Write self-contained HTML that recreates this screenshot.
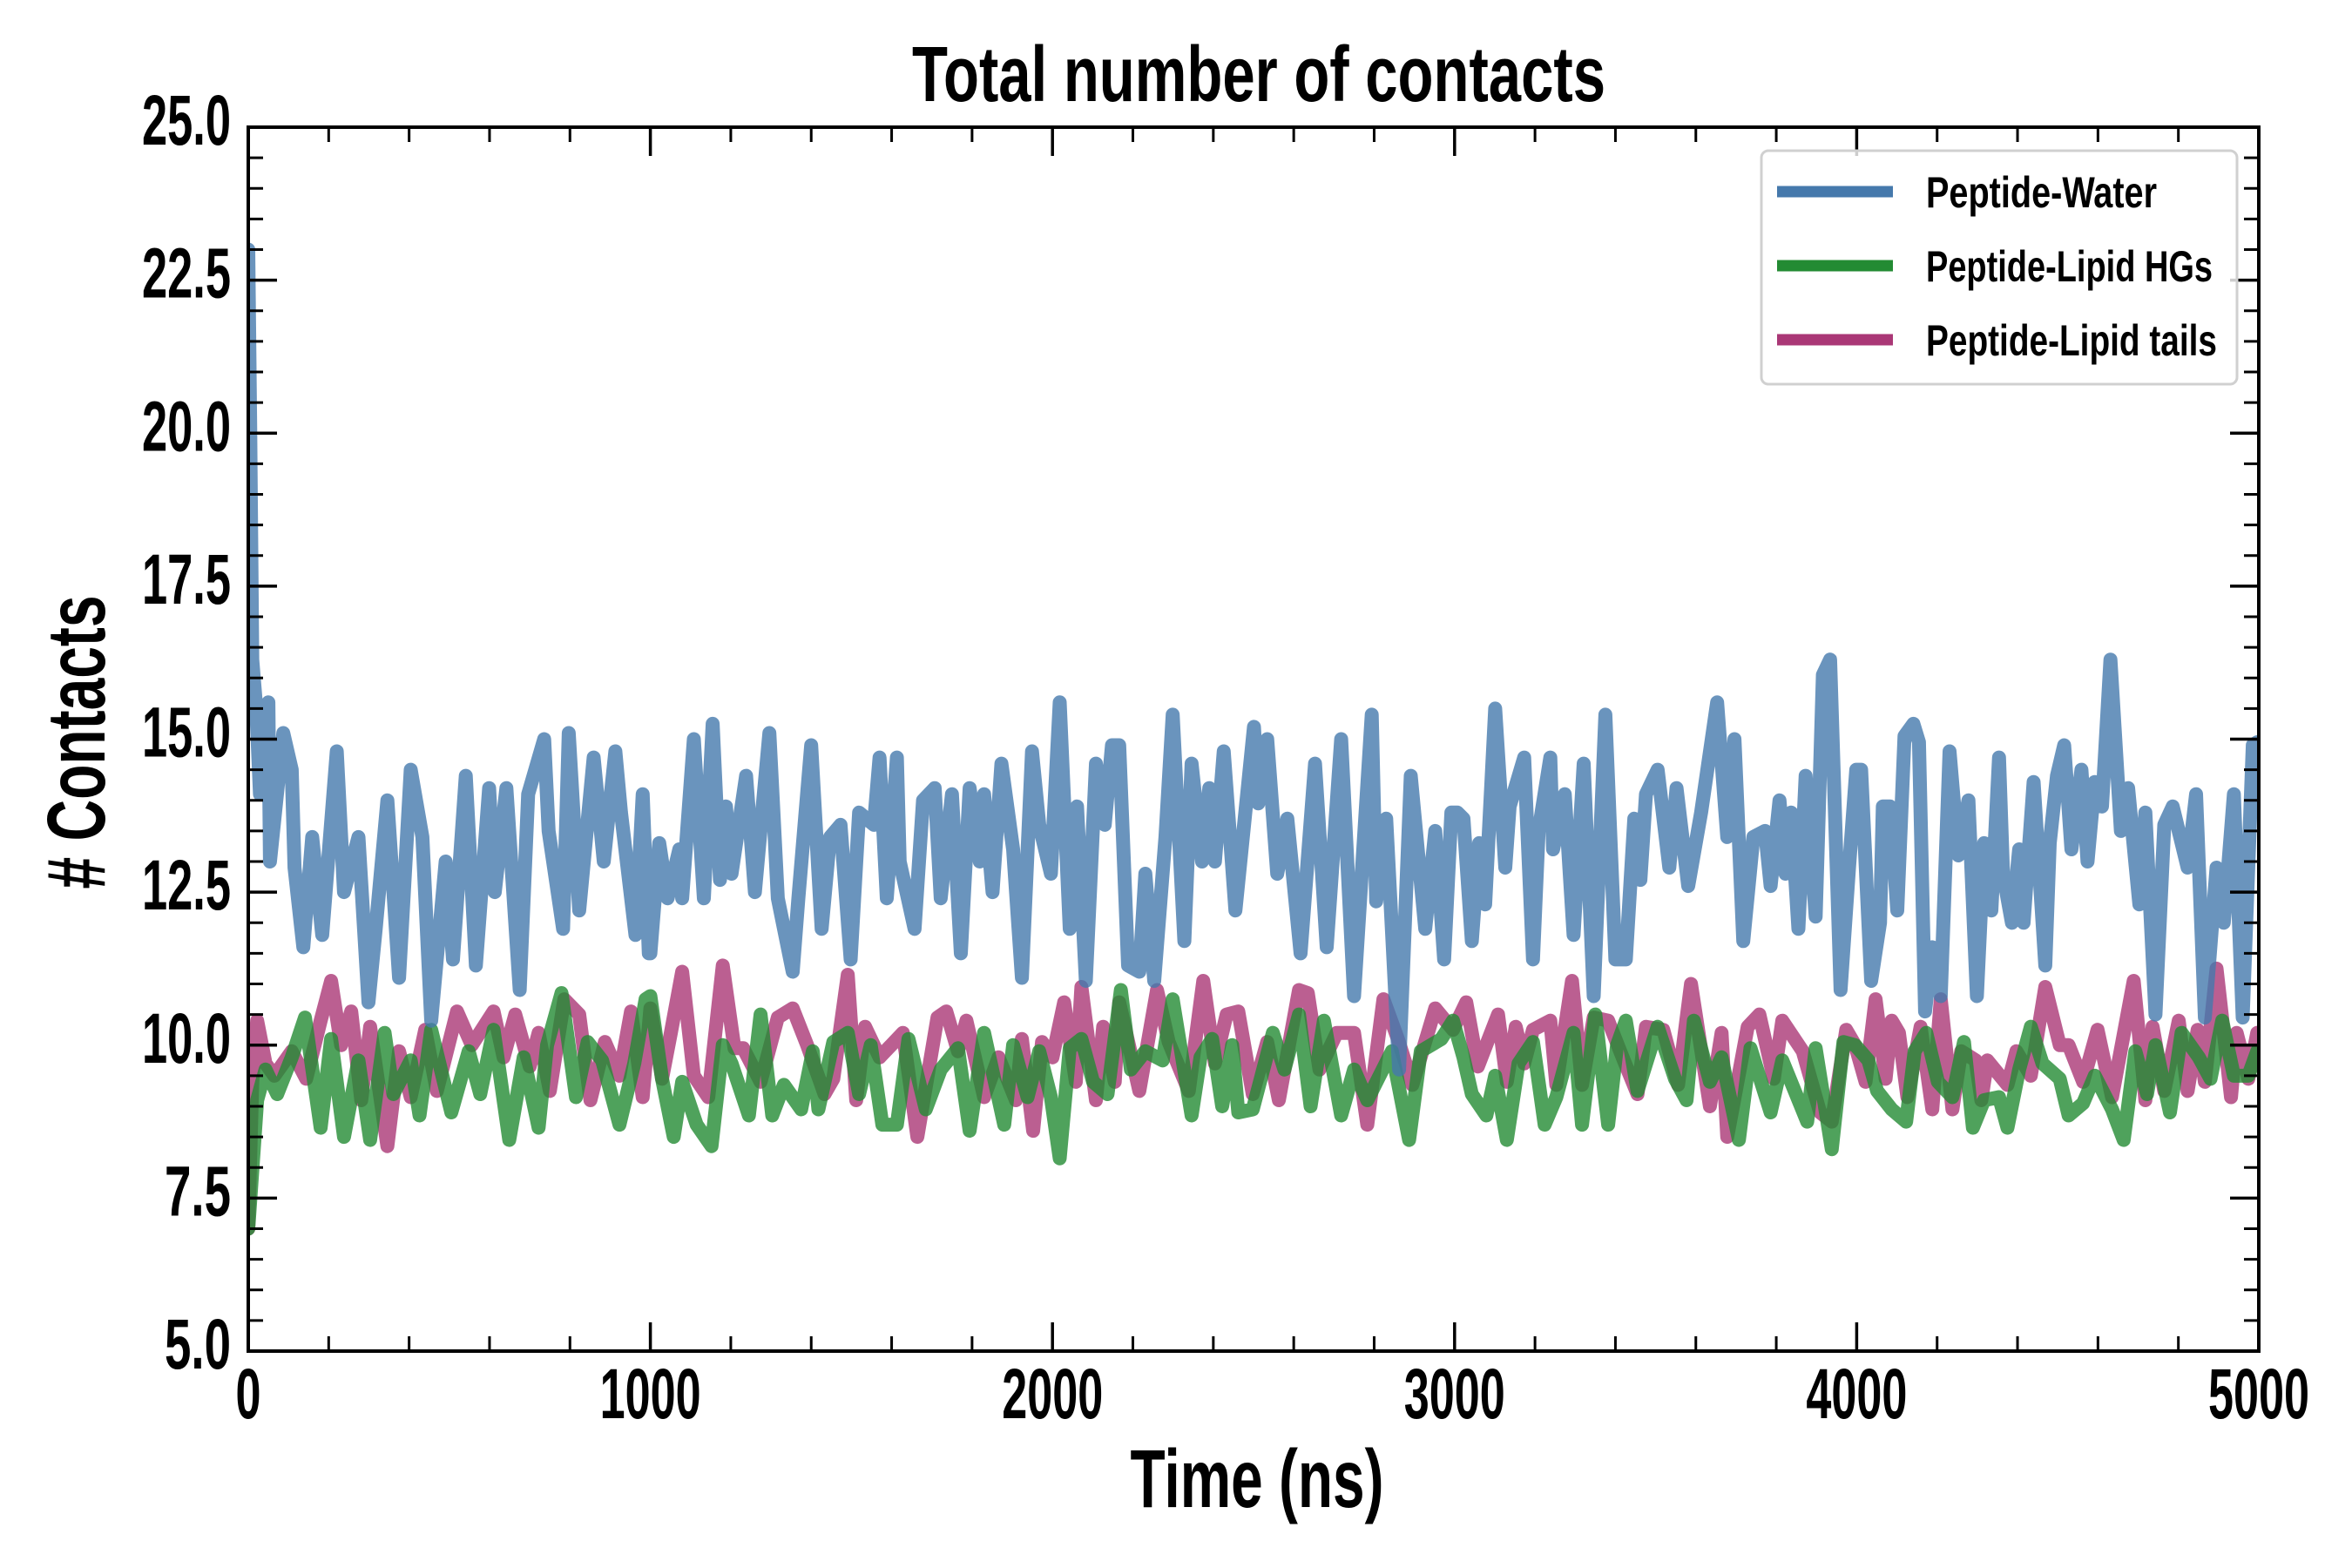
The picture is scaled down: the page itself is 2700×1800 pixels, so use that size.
<!DOCTYPE html>
<html><head><meta charset="utf-8"><style>
html,body{margin:0;padding:0;background:#fff;}
svg{display:block;}
text{font-family:"Liberation Sans Narrow","Liberation Sans",sans-serif;font-weight:bold;fill:#000;}
</style></head><body>
<svg id="chart" width="2700" height="1800" viewBox="0 0 2700 1800" xmlns="http://www.w3.org/2000/svg">
<rect width="2700" height="1800" fill="#fff"/>
<g id="series"></g>
<g id="axes"></g>
<text x="1445" y="116" font-size="90" text-anchor="middle" textLength="796" lengthAdjust="spacingAndGlyphs">Total number of contacts</text>
<text x="1443" y="1730" font-size="95" text-anchor="middle" textLength="291" lengthAdjust="spacingAndGlyphs">Time (ns)</text>
<text x="0" y="0" font-size="95" text-anchor="middle" textLength="337" lengthAdjust="spacingAndGlyphs" transform="translate(120,852) rotate(-90)"># Contacts</text>
<g>
<rect x="2022" y="173" width="546" height="268" rx="8" fill="#fff" fill-opacity="0.8" stroke="#d0d0d0" stroke-width="3"/>
<g>
<line x1="2040" y1="220" x2="2173" y2="220" stroke="#4579ac" stroke-width="13"/>
<text x="2211" y="238" font-size="50" textLength="265" lengthAdjust="spacingAndGlyphs">Peptide-Water</text></g>
<g>
<line x1="2040" y1="305" x2="2173" y2="305" stroke="#238b33" stroke-width="13"/>
<text x="2211" y="323" font-size="50" textLength="329" lengthAdjust="spacingAndGlyphs">Peptide-Lipid HGs</text></g>
<g>
<line x1="2040" y1="390" x2="2173" y2="390" stroke="#aa3776" stroke-width="13"/>
<text x="2211" y="408" font-size="50" textLength="334" lengthAdjust="spacingAndGlyphs">Peptide-Lipid tails</text></g>
</g>
</svg>
<script>
const xTicks = [0, 1000, 2000, 3000, 4000, 5000];
const xTickLabels = ["0", "1000", "2000", "3000", "4000", "5000"];
const yTicks = [5, 7.5, 10, 12.5, 15, 17.5, 20, 22.5, 25];
const yTickLabels = ["5.0", "7.5", "10.0", "12.5", "15.0", "17.5", "20.0", "22.5", "25.0"];

const waterT = [0,5,10,20,29,50,54,87,108,115,137,159,184,220,238,274,299,317,346,375,404,433,455,491,509,541,566,599,613,642,675,696,736,747,783,797,823,859,884,913,927,963,981,996,
1000,1022,1043,1072,1079,1108,1133,1155,1173,1188,1202,1238,1260,1296,1317,1354,1368,1400,1426,1447,1473,1498,1519,1556,1570,1588,1613,1620,1657,1678,1707,1722,1750,1772,1794,1819,1830,1851,1873,1902,1924,1949,1967,1996,
2018,2043,2061,2083,2108,2130,2148,2166,2188,2216,2231,2253,2281,2299,2328,2346,2372,2390,2404,2426,2455,2501,2512,2534,2559,2584,2617,2653,2682,2718,2750,2794,2805,2830,2862,2891,2927,2952,2974,2992,
3007,3022,3043,3061,3076,3101,3126,3137,3173,3195,3209,3238,3245,3274,3296,3321,3346,3375,3400,3426,3447,3462,3476,3505,3534,3552,3581,3613,3653,3678,3696,3718,3743,3772,3786,3808,3823,3837,3855,3873,3898,3916,3934,3960,3981,3999,
4011,4036,4058,4065,4083,4101,4119,4141,4155,4170,4188,4209,4231,4253,4278,4299,4317,4335,4354,4364,4386,4404,4415,4440,4469,4480,4498,4516,4534,4559,4574,4592,4610,4631,4657,4675,4703,4718,4743,4765,4786,4823,4844,4866,4895,4913,4938,4960,4985,4996];
const waterV = [23,20,16.3,15.5,14.1,15.6,13,15.1,14.5,12.9,11.6,13.4,11.8,14.8,12.5,13.4,10.7,11.9,14,11.1,14.5,13.4,10.4,13,11.4,14.4,11.3,14.2,12.5,14.2,10.9,14.1,15,13.5,11.9,15.1,12.2,14.7,13,14.8,13.8,11.8,14.1,11.5,
11.5,13.3,12.4,13.2,12.4,15,12.4,15.25,12.7,13.9,12.8,14.4,12.5,15.1,12.4,11.2,12.4,14.9,11.9,13.4,13.6,11.4,13.8,13.6,14.7,12.4,14.7,13,11.9,14,14.2,12.4,14.1,11.5,14.2,13,14.1,12.5,14.6,13.2,11.1,14.8,13.6,12.8,
15.6,11.9,13.9,11.05,14.6,13.6,14.9,14.9,11.3,11.2,12.8,11.05,13.4,15.4,11.7,14.6,13,14.2,13,14.8,12.2,15.2,13.95,15,12.8,13.7,11.5,14.6,11.6,15,10.8,15.4,12.35,13.7,9.6,14.4,11.9,13.5,11.4,13.8,
13.8,13.7,11.7,13.3,12.3,15.5,12.9,13.9,14.7,11.4,13.5,14.7,13.2,14.1,11.8,14.6,10.8,15.4,11.4,11.4,13.7,12.7,14.1,14.5,12.9,14.2,12.6,13.8,15.6,13.4,15,11.7,13.4,13.5,12.6,14,12.8,13.8,11.9,14.4,12.1,16.05,16.3,10.9,12.9,14.5,
14.5,11.05,12,13.9,13.9,12.2,15.05,15.25,14.95,10.55,11.6,10.8,14.8,13.1,14,10.8,13.3,12.2,14.7,12.8,12,13.2,12,14.3,11.3,13.3,14.4,14.9,13.2,14.5,13,14.3,13.9,16.3,13.5,14.2,12.3,13.8,10.5,13.6,13.9,12.9,14.1,10.45,12.9,12,14.1,10.45,14.9,14.95];

const tailsT = [0,10,22,43,65,108,144,180,206,231,256,281,303,346,375,404,440,469,519,556,610,635,664,700,722,750,786,823,851,887,923,952,981,
1000,1029,1051,1079,1108,1144,1180,1209,1231,1274,1317,1354,1390,1433,1455,1491,1512,1534,1570,1628,1664,1714,1736,1765,1786,1830,1866,1909,1924,1952,1974,
2000,2029,2058,2072,2108,2126,2155,2166,2216,2260,2289,2339,2375,2404,2433,2462,2498,2534,2563,2613,2635,2664,2707,2750,2783,2823,2859,2895,2952,2996,
3029,3058,3108,3130,3152,3173,3195,3238,3253,3292,3317,3346,3382,3418,3455,3476,3519,3556,3588,3635,3664,3678,3729,3758,3794,3815,3866,3909,3938,3974,3996,
4022,4047,4072,4087,4105,4126,4159,4188,4209,4238,4260,4296,4310,4325,4375,4397,4433,4469,4505,4527,4563,4599,4635,4689,4718,4736,4765,4801,4823,4848,4866,4895,4931,4945,4974,4996];
const tailsV = [7,9.4,10.4,9.7,9.5,9.9,9.45,10.4,11.05,10,10.55,9.1,10.3,8.35,9.9,9.15,10.25,9.25,10.55,10,10.55,9.8,10.5,9.65,10.2,9.25,10.75,10.5,9.1,10.05,9.5,10.55,9.15,
10.6,9.45,10.2,11.2,9.5,9.15,11.3,9.95,9.95,9.4,10.45,10.6,10,9.2,9.45,11.15,9.1,10.3,9.8,10.2,8.5,10.45,10.55,9.9,10.4,9.15,9.8,9.1,10.1,8.6,10.05,
9.8,10.7,9.4,10.95,9.1,10.3,9.4,10.7,9.25,10.9,10.05,9.25,11.05,9.7,10.5,10.55,9.2,10.05,9.1,10.9,10.85,9.6,10.2,10.2,8.7,10.75,10.1,9.35,10.6,10.25,
10.7,9.65,10.5,9.4,10.3,9.7,10.25,10.4,9.35,11.05,9.35,10.45,10.4,9.8,9.2,10.3,10.25,9.35,11,9,10.2,8.5,10.3,10.5,9.45,10.4,9.9,8.9,8.75,10.25,10,
9.4,10.75,9.45,10.4,10.2,9.15,10.3,8.95,10.75,8.95,9.9,9.75,9.1,9.75,9.35,9.9,9.5,10.95,10,10,9.4,10.25,9.15,11.05,9.1,10.3,9.25,10.4,9.25,10.25,9.4,11.25,9.15,10.2,9.45,10.2];

const hgsT = [0,22,43,72,108,141,180,206,238,274,303,339,361,404,426,455,505,548,577,610,649,685,722,743,779,815,844,880,923,960,988,
1000,1029,1058,1079,1115,1152,1180,1202,1245,1274,1303,1332,1375,1404,1418,1455,1491,1519,1548,1577,1613,1642,1685,1722,1765,1794,1830,1880,1902,1938,1967,1996,
2018,2043,2072,2101,2137,2170,2195,2231,2274,2299,2346,2368,2397,2422,2447,2462,2498,2548,2577,2613,2642,2675,2718,2750,2783,2844,2887,2916,2967,2996,
3022,3043,3079,3101,3130,3159,3195,3224,3253,3296,3317,3350,3382,3404,3426,3455,3505,3548,3577,3595,3635,3664,3707,3736,3786,3815,3877,3898,3938,3967,3996,
4029,4051,4087,4123,4144,4173,4202,4238,4267,4289,4317,4354,4375,4404,4433,4462,4505,4527,4563,4592,4635,4664,4693,4722,4743,4779,4808,4851,4880,4909,4938,4974,4996];
const hgsV = [7,9.1,9.6,9.2,9.8,10.45,8.65,10.1,8.5,9.75,8.45,10.2,9.2,9.75,8.85,10.25,8.9,9.9,9.2,10.25,8.45,9.8,8.65,10,10.85,9.15,10.05,9.75,8.7,9.7,10.75,
10.8,9.45,8.5,9.4,8.7,8.35,10,9.7,8.85,10.5,8.85,9.35,8.95,9.9,8.95,10.05,10.2,9.2,10,8.7,8.7,10.1,8.95,9.6,9.95,8.6,10.2,8.7,10,9.15,9.9,9.15,
8.15,9.95,10.1,9.4,9.2,10.9,9.6,9.9,9.75,10.75,8.85,9.8,10.1,9,10,8.9,8.95,10.2,9.6,10.5,9,10.4,8.85,9.6,9.1,9.9,8.45,9.9,10.1,10.4,
9.8,9.2,8.85,9.5,8.45,9.7,10.05,8.7,9.15,10.2,8.7,10.5,8.7,10,10.4,9.25,10.3,9.45,9.1,10.4,9.4,9.8,8.45,9.95,8.9,9.75,8.75,9.95,8.3,10.05,10,
9.75,9.25,8.95,8.75,9.9,10.2,9.4,9.15,10.05,8.65,9.1,9.15,8.65,9.6,10.3,9.7,9.45,8.85,9.05,9.5,8.95,8.45,9.9,9.2,10,8.9,10.2,9.8,9.45,10.4,9.5,9.5,9.9];

const NS = "http://www.w3.org/2000/svg";
const L = 285, R = 2593, T = 146, B = 1551;
const xMin = 0, xMax = 5000, yMin = 5, yMax = 25;
function xs(v){ return L + (v - xMin) / (xMax - xMin) * (R - L); }
function ys(v){ return B - (v - yMin) / (yMax - yMin) * (B - T); }

const seriesG = document.getElementById('series');
const axesG = document.getElementById('axes');

const clip = document.createElementNS(NS, 'clipPath');
clip.setAttribute('id', 'plotclip');
const cr = document.createElementNS(NS, 'rect');
cr.setAttribute('x', L); cr.setAttribute('y', T); cr.setAttribute('width', R - L); cr.setAttribute('height', B - T);
clip.appendChild(cr);
document.getElementById('chart').appendChild(clip);
seriesG.setAttribute('clip-path', 'url(#plotclip)');

function drawSeries(ts, vs, color, name){
  let d = '';
  for (let i = 0; i < ts.length; i++) d += (i ? 'L' : 'M') + xs(ts[i]).toFixed(1) + ' ' + ys(vs[i]).toFixed(1);
  const p = document.createElementNS(NS, 'path');
  p.setAttribute('d', d);
  p.setAttribute('fill', 'none');
  p.setAttribute('stroke', color);
  p.setAttribute('stroke-opacity', '0.8');
  p.setAttribute('stroke-width', '16');
  p.setAttribute('stroke-linejoin', 'round');
  p.setAttribute('stroke-linecap', 'round');
  
  
  seriesG.appendChild(p);
}
drawSeries(tailsT, tailsV, '#aa3776', 'peptide-lipid-tails-line');
drawSeries(hgsT, hgsV, '#238b33', 'peptide-lipid-hgs-line');
drawSeries(waterT, waterV, '#4579ac', 'peptide-water-line');

function line(x1, y1, x2, y2, w){
  const l = document.createElementNS(NS, 'line');
  l.setAttribute('x1', x1); l.setAttribute('y1', y1); l.setAttribute('x2', x2); l.setAttribute('y2', y2);
  l.setAttribute('stroke', '#000'); l.setAttribute('stroke-width', w);
  
  
  axesG.appendChild(l);
}
for (let v = 0; v <= 5000; v += 200) {
  if (v % 1000 === 0) continue;
  const x = xs(v); line(x, B, x, B - 17, 3); line(x, T, x, T + 17, 3);
}
for (let v = 5; v <= 25.001; v += 0.5) {
  if (Math.abs(v / 2.5 - Math.round(v / 2.5)) < 1e-6) continue;
  const y = ys(v); line(L, y, L + 17, y, 3); line(R, y, R - 17, y, 3);
}
xTicks.forEach((v, i) => {
  const x = xs(v); line(x, B, x, B - 33, 3.5); line(x, T, x, T + 33, 3.5);
  const t = document.createElementNS(NS, 'text');
  t.setAttribute('x', x); t.setAttribute('y', 1628);
  t.setAttribute('font-size', '82'); t.setAttribute('text-anchor', 'middle');
  t.setAttribute('textLength', xTickLabels[i].length * 29);
  t.setAttribute('lengthAdjust', 'spacingAndGlyphs');
  
  
  t.textContent = xTickLabels[i];
  axesG.appendChild(t);
});
yTicks.forEach((v, i) => {
  const y = ys(v); line(L, y, L + 33, y, 3.5); line(R, y, R - 33, y, 3.5);
  const t = document.createElementNS(NS, 'text');
  t.setAttribute('x', 265); t.setAttribute('y', y + 20);
  t.setAttribute('font-size', '82'); t.setAttribute('text-anchor', 'end');
  const lab = yTickLabels[i];
  t.setAttribute('textLength', lab.length === 3 ? 76 : 102);
  t.setAttribute('lengthAdjust', 'spacingAndGlyphs');
  
  
  t.textContent = lab;
  axesG.appendChild(t);
});
const frame = document.createElementNS(NS, 'rect');
frame.setAttribute('x', L); frame.setAttribute('y', T);
frame.setAttribute('width', R - L); frame.setAttribute('height', B - T);
frame.setAttribute('fill', 'none'); frame.setAttribute('stroke', '#000'); frame.setAttribute('stroke-width', '4');


axesG.appendChild(frame);
</script>
</body></html>
